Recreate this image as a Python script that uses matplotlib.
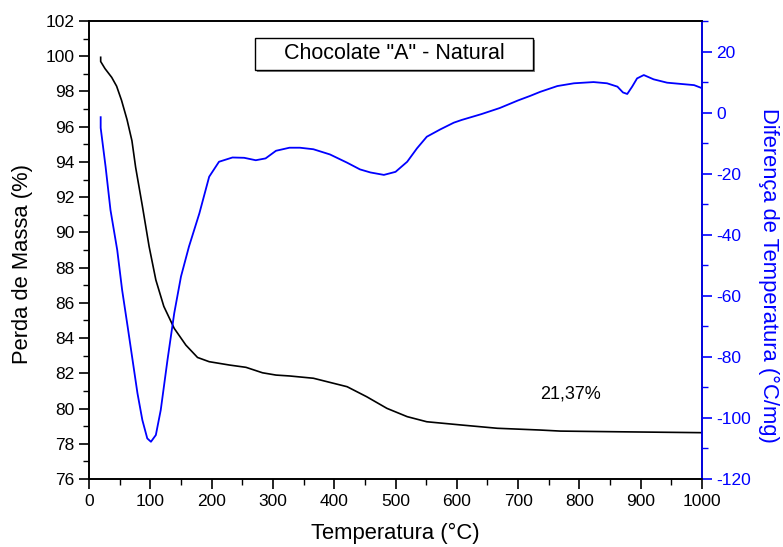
import numpy as np
import matplotlib.pyplot as plt
from matplotlib.patches import Rectangle
from matplotlib.ticker import MultipleLocator

plt.rcParams['font.family'] = ['Liberation Sans', 'DejaVu Sans']
plt.rcParams['axes.unicode_minus'] = False

# TG (perda de massa)
temp_tg = [19, 19, 26, 37, 45, 53, 62, 70, 76, 87, 98, 109, 122, 139, 158, 177, 196,
           229, 256, 283, 305, 327, 366, 421, 453, 486, 519, 551, 606, 666, 736,
           769, 867, 1000]
massa = [99.94, 99.7, 99.3, 98.8, 98.3, 97.5, 96.4, 95.2, 93.7, 91.5, 89.2, 87.3,
         85.8, 84.55, 83.6, 82.9, 82.66, 82.47, 82.34, 82.03, 81.9, 81.85, 81.72,
         81.24, 80.67, 80.01, 79.54, 79.25, 79.07, 78.88, 78.78, 78.72, 78.68, 78.63]

# DTA (diferenca de temperatura)
temp_dta = [19, 19, 27, 35, 46, 54, 63, 71, 79, 87, 95, 101, 109, 117, 128, 139, 150,
            163, 180, 196, 212, 234, 253, 272, 288, 305, 327, 344, 366, 393, 421,
            442, 459, 481, 500, 519, 535, 551, 573, 595, 608, 640, 670, 700, 720,
            736, 764, 791, 823, 845, 862, 871, 878, 886, 894, 905, 921, 943, 965,
            987, 1000]
dta = [-1.5, -5, -17.7, -31.9, -45, -58.1, -70.1, -81, -91.9, -100.7, -106.7, -107.8,
       -105.6, -97.4, -81, -65.7, -53.7, -43.9, -33, -21, -16.1, -14.7, -14.8, -15.6,
       -15, -12.5, -11.5, -11.5, -12, -13.7, -16.4, -18.6, -19.6, -20.4, -19.4,
       -16.1, -11.7, -7.9, -5.5, -3.3, -2.4, -0.5, 1.5, 4, 5.5, 6.8, 8.7, 9.6, 10,
       9.6, 8.5, 6.6, 6.1, 8.5, 11.2, 12.3, 10.9, 9.8, 9.4, 9, 8]

fig = plt.figure(figsize=(7.83, 5.47), dpi=100)
ax = fig.add_axes([0.1137, 0.1243, 0.7829, 0.8373])
ax2 = ax.twinx()

ax.plot(temp_tg, massa, color='black', lw=1.2)
ax2.plot(temp_dta, dta, color='blue', lw=1.3)

ax.set_xlim(0, 1000)
ax.set_ylim(76, 102)
ax2.set_ylim(-120, 30)

ax.set_xticks(np.arange(0, 1001, 100))
ax.xaxis.set_minor_locator(MultipleLocator(50))
ax.set_yticks(np.arange(76, 103, 2))
ax.yaxis.set_minor_locator(MultipleLocator(1))
ax2.set_yticks(np.arange(-120, 21, 20))
ax2.yaxis.set_minor_locator(MultipleLocator(10))

ax.tick_params(which='major', direction='out', length=7, width=1.2, labelsize=12.5)
ax.tick_params(which='minor', direction='out', length=4, width=1.0)
ax2.tick_params(which='major', direction='out', length=7, width=1.2, labelsize=12.5,
                colors='blue')
ax2.tick_params(which='minor', direction='out', length=4, width=1.0, colors='blue')

for a in (ax, ax2):
    for s in a.spines.values():
        s.set_linewidth(1.2)
ax2.spines['right'].set_color('blue')

ax.set_xlabel('Temperatura (°C)', fontsize=15.8, labelpad=10)
ax.set_ylabel('Perda de Massa (%)', fontsize=15.8, va='center')
ax.yaxis.set_label_coords(-0.109, 0.469)
ax2.set_ylabel('Diferença de Temperatura (°C/mg)', fontsize=15.8, color='blue',
               rotation=-90, va='center')
ax2.yaxis.set_label_coords(1.108, 0.445)

# caixa do titulo
ax.add_patch(Rectangle((0.2738, 0.888), 0.4535, 0.07, transform=ax.transAxes,
                       facecolor='gray', edgecolor='none', zorder=4))
ax.add_patch(Rectangle((0.2708, 0.893), 0.4535, 0.07, transform=ax.transAxes,
                       facecolor='white', edgecolor='black', lw=1.0, zorder=5))
ax.text(0.498, 0.928, 'Chocolate "A" - Natural', transform=ax.transAxes,
        ha='center', va='center', fontsize=15.5, zorder=6)

ax.text(785, 80.8, '21,37%', ha='center', va='center', fontsize=13)

fig.savefig('out.png', dpi=100)
